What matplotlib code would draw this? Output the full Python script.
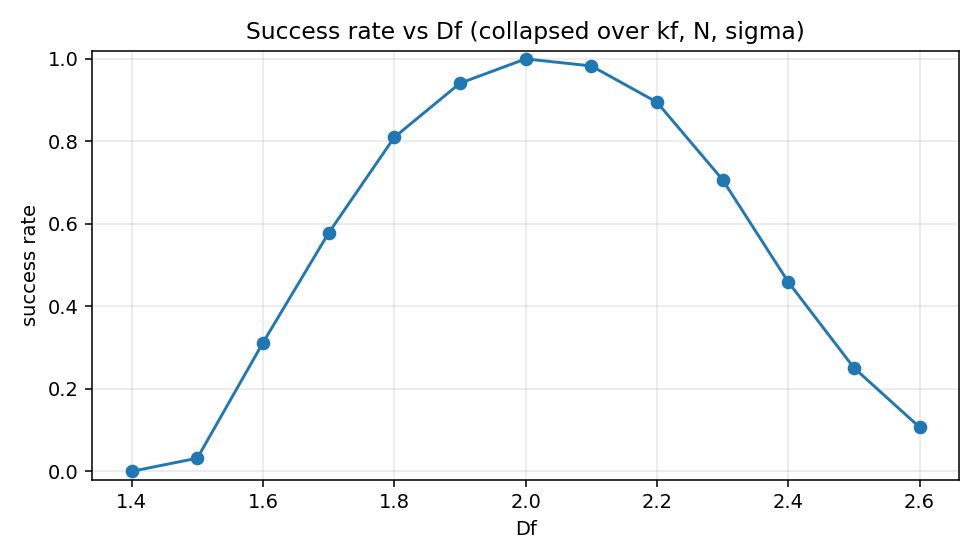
import matplotlib
matplotlib.use("Agg")
import matplotlib.pyplot as plt

# success rate per Df
df_values = [1.4, 1.5, 1.6, 1.7, 1.8, 1.9, 2.0, 2.1, 2.2, 2.3, 2.4, 2.5, 2.6]
success_rate = [0.0, 0.032, 0.312, 0.578, 0.810, 0.941, 1.0, 0.983, 0.895, 0.707, 0.459, 0.251, 0.107]

fig, ax = plt.subplots(figsize=(7, 4), dpi=140)
ax.plot(df_values, success_rate, marker="o")
ax.set_ylim(-0.02, 1.02)
ax.set_xlabel("Df")
ax.set_ylabel("success rate")
ax.set_title("Success rate vs Df (collapsed over kf, N, sigma)")
ax.grid(True, alpha=0.3)

plt.tight_layout()
plt.savefig("out.png")
